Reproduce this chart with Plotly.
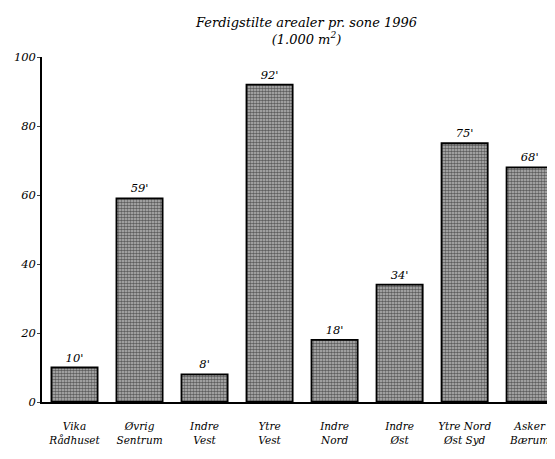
import plotly.graph_objects as go

zones = ["Vika<br>Rådhuset", "Øvrig<br>Sentrum", "Indre<br>Vest", "Ytre<br>Vest",
         "Indre<br>Nord", "Indre<br>Øst", "Ytre Nord<br>Øst Syd", "Asker<br>Bærum"]
areal = [10, 59, 8, 92, 18, 34, 75, 68]
bar_labels = ["10'", "59'", "8'", "92'", "18'", "34'", "75'", "68'"]
y_ticks = [0, 20, 40, 60, 80, 100]

SERIF = "DejaVu Serif, Liberation Serif, serif"

fig = go.Figure(go.Bar(
    x=zones, y=areal,
    text=bar_labels, textposition="outside", cliponaxis=False,
    textfont=dict(family=SERIF, size=11.5, color="black", style="italic"),
    marker=dict(color="#b4b4b4",
                line=dict(color="black", width=1.8),
                pattern=dict(shape=".", fgcolor="#000", bgcolor="#bcbcbc",
                             size=3, solidity=0.6)),
))

# the page has an 8px body margin, so the figure is sized to the rest of the window
fig.update_layout(
    width=547, height=451,
    margin=dict(l=34, r=0, t=49, b=57),
    paper_bgcolor="white", plot_bgcolor="white",
    bargap=0.29, showlegend=False,
    font=dict(family=SERIF, color="black"),
)
# title as an annotation: multi-line layout titles ended up clipped at the top
fig.add_annotation(
    text="Ferdigstilte arealer pr. sone 1996<br>(1.000 m<sup>2</sup>)",
    xref="paper", yref="paper", x=0.515, y=1, xanchor="center", yanchor="bottom",
    yshift=8, showarrow=False,
    font=dict(family=SERIF, size=13, style="italic"),
)
fig.update_xaxes(range=[-0.5, 7.39], showline=True, linecolor="black", linewidth=1.5,
                 ticks="", showgrid=False, ticklabelstandoff=14,
                 tickfont=dict(family=SERIF, size=10.5, style="italic"))
fig.update_yaxes(range=[0, 100], tickvals=y_ticks, showline=True, linecolor="black",
                 linewidth=1.5, ticks="outside", ticklen=3, showgrid=False, zeroline=False,
                 ticklabelstandoff=-1,
                 tickfont=dict(family=SERIF, size=11.5, style="italic"))

fig.write_html("out.html")
